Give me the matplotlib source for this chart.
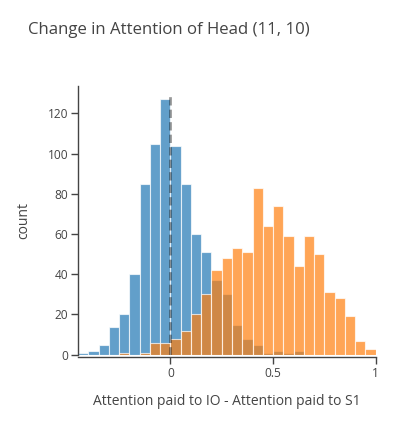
import numpy as np
import matplotlib
matplotlib.use("Agg")
import matplotlib.pyplot as plt

plt.rcParams['font.family'] = ['Open Sans', 'DejaVu Sans']

# ==============================
# Datos (histogramas, bins de 0.05)
# ==============================
bin_edges = np.round(np.arange(-0.45, 1.0001, 0.05), 2)

# cambio de atención -> cabeza (11, 10), dos grupos
blue_counts = [1, 2, 5, 14, 20, 40, 85, 105, 127, 104, 85, 60, 51, 37, 30, 15,
               8, 5, 1, 2, 1, 2, 0, 0, 0, 0, 0, 0, 0]
orange_counts = [0, 0, 0, 0, 1, 0, 1, 6, 6, 8, 12, 20, 30, 42, 48, 53,
                 51, 83, 64, 74, 59, 44, 59, 50, 31, 28, 19, 7, 3]

x_ticks = [0, 0.5, 1]
x_ticklabels = ["0", "0.5", "1"]
y_ticks = [0, 20, 40, 60, 80, 100, 120]

title = "Change in Attention of Head (11, 10)"
x_title = "Attention paid to IO - Attention paid to S1"
y_title = "count"

# ==============================
# Gráfica
# ==============================
W, H = 394, 422
fig = plt.figure(figsize=(W / 100, H / 100), dpi=100)
ax = fig.add_axes([78 / W, 1 - 354.7 / H, (375.7 - 78) / W, (354.7 - 86) / H])

lefts = bin_edges[:-1]
width = 0.05
ax.bar(lefts, blue_counts, width=width, align='edge', color='#1f77b4', alpha=0.7,
       edgecolor=(1, 1, 1, 0.6), linewidth=0.8, zorder=2)
ax.bar(lefts, orange_counts, width=width, align='edge', color='#ff7f0e', alpha=0.7,
       edgecolor=(1, 1, 1, 0.6), linewidth=0.8, zorder=3)

ax.plot([0, 0], [0, 130], color='black', alpha=0.4, lw=2, dashes=(3, 1.5), zorder=4)

ax.set_xlim(-0.45, 1.0)
ax.set_ylim(0, 133.6)
ax.set_xticks(x_ticks)
ax.set_xticklabels(x_ticklabels)
ax.set_yticks(y_ticks)

for s in ['top', 'right']:
    ax.spines[s].set_visible(False)
ax.spines['bottom'].set_position(('outward', 2))
for s in ['left', 'bottom']:
    ax.spines[s].set_color('#444444')
    ax.spines[s].set_linewidth(1)
ax.tick_params(length=5, width=1, color='#444444', labelcolor='#444444',
               labelsize=8.6, pad=2)

ax.set_xlabel(x_title, fontsize=10, color='#444444', labelpad=10)
ax.set_ylabel(y_title, fontsize=10, color='#444444', labelpad=12)

fig.text(28 / W, 1 - 30 / H, title, fontsize=12.1, color='#444444',
         ha='left', va='center')

fig.savefig("out.png", dpi=100)
